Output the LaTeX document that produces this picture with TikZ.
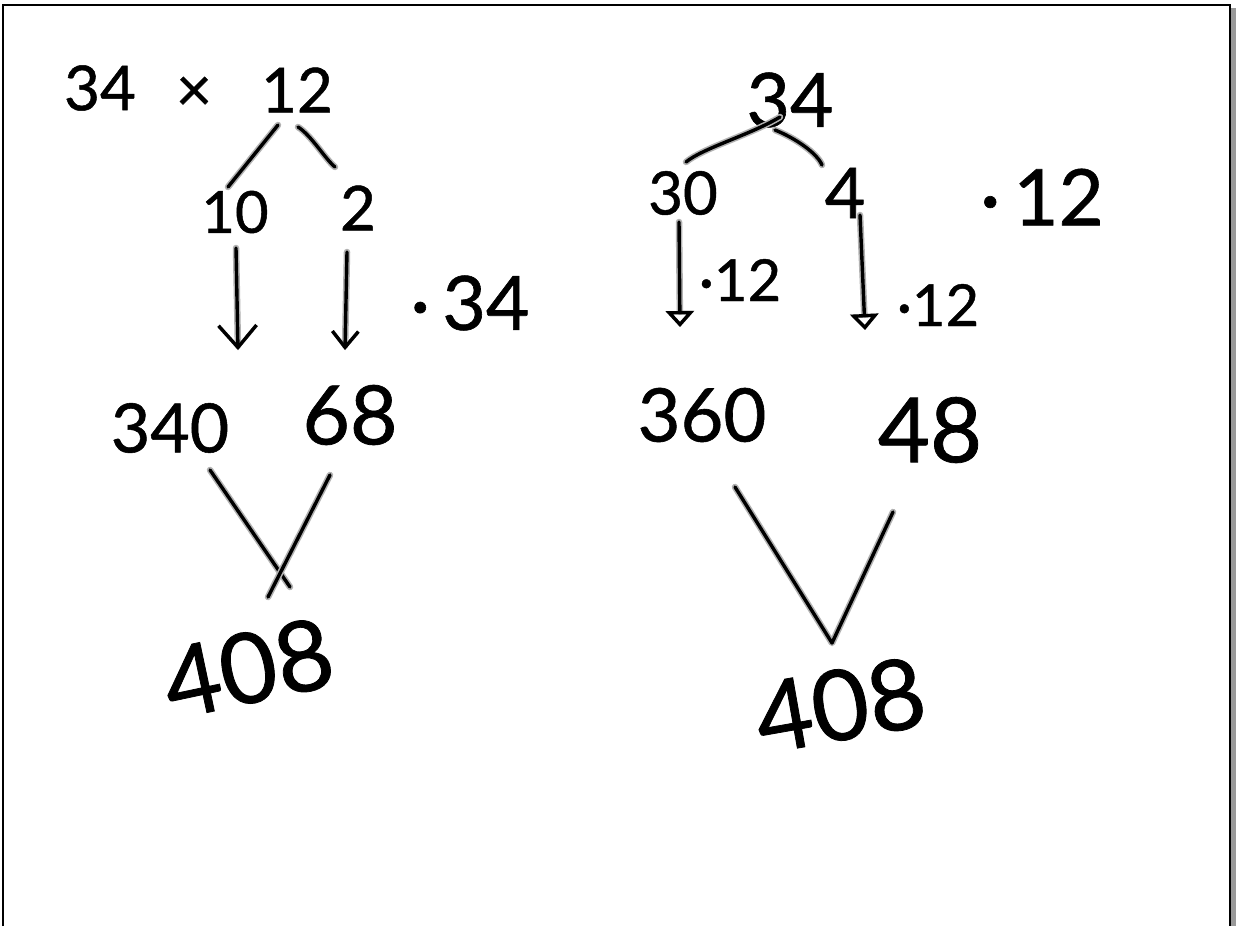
\documentclass[tikz,border=0pt]{standalone}
\usepackage{fontspec}
\setmainfont{Lato}[FakeBold=0.8]
\usetikzlibrary{arrows.meta,calc}
\tikzset{
  hand/.style={line width=3.4pt, line cap=round, line join=round, draw=black,
    preaction={draw=gray!60, line width=6.5pt, line cap=round, line join=round}},
  num/.style={inner sep=0pt, text=black, font=\fontsize{#1}{#1}\selectfont},
  barb/.style={-{Straight Barb[length=22pt,width=38pt,line width=3.4pt]}},
  barbs/.style={-{Straight Barb[length=16pt,width=26pt,line width=3.4pt]}},
  tri/.style={-{Triangle[open,length=16pt,width=28pt,line width=3.4pt]}},
  frame/.style={line width=2pt, black}
}
\begin{document}
\begin{tikzpicture}[x=1pt,y=-1pt]
\useasboundingbox (0,0) rectangle (1236,926);
\fill[white] (0,0) rectangle (1236,926);
% frame
\fill[gray!80] (1231,8) rectangle (1236,926);
\draw[frame] (3,926) -- (3,5) -- (1230,5) -- (1230,926);

% ---------- left tree ----------
\node[num=62] (n34a) at (100,88) {34};
\node[num=62] (times) at (194,94) {×};
\node[num=62] (n12a) at (297,90) {12};
\node[num=58] (n10) at (235,212) {10};
\node[num=62] (n2) at (358,208) {2};
\node[num=75] (m34) at (470,303) {·\,34};
\node[num=68] (n340) at (170,428) {340};
\node[num=82] (n68) at (350,415) {68};
\node[num=98, rotate=12] (n408a) at (248,668) {408};

\draw[hand] ([shift={(-19,35)}]n12a.center) -- ([shift={(-7,-25)}]n10.center);
\draw[hand] ([shift={(1,37)}]n12a.center) .. controls ([shift={(14,45)}]n12a.center) and ([shift={(-32,-48)}]n2.center) .. ([shift={(-23,-41)}]n2.center);
\draw[hand,barb] ([shift={(1,36)}]n10.center) -- ([shift={(68,-78)}]n340.center);
\draw[hand,barbs] ([shift={(-11,44)}]n2.center) -- ([shift={(-5,-65)}]n68.center);
\draw[hand] ([shift={(40,42)}]n340.center) -- ([shift={(42,-81)}]n408a.center);
\draw[hand] ([shift={(-20,60)}]n68.center) -- ([shift={(20,-71)}]n408a.center);

% ---------- right tree ----------
\node[num=75] (n34b) at (790,100) {34};
\node[num=60] (n30) at (683,193) {30};
\node[num=70] (n4) at (845,193) {4};
\node[num=78] (r12) at (1042,197) {·\,12};
\node[num=58] (l12a) at (740,280) {·12};
\node[num=58] (l12b) at (938,305) {·12};
\node[num=74] (n360) at (702,415) {360};
\node[num=90] (n48) at (930,430) {48};
\node[num=98, rotate=10] (n408b) at (840,705) {408};

\draw[hand] ([shift={(-10,17)}]n34b.center) .. controls ([shift={(-40,35)}]n34b.center) and ([shift={(20,-45)}]n30.center) .. ([shift={(3,-31)}]n30.center);
\draw[hand] ([shift={(-15,30)}]n34b.center) .. controls ([shift={(5,38)}]n34b.center) and ([shift={(-28,-40)}]n4.center) .. ([shift={(-23,-28)}]n4.center);
\draw[hand,tri] ([shift={(-4,29)}]n30.center) -- ([shift={(-22,-88)}]n360.center);
\draw[hand,tri] ([shift={(15,22)}]n4.center) -- ([shift={(-65,-100)}]n48.center);
\draw[hand] ([shift={(33,72)}]n360.center) -- ([shift={(-8,-62)}]n408b.center) -- ([shift={(-37,82)}]n48.center);
\end{tikzpicture}
\end{document}
